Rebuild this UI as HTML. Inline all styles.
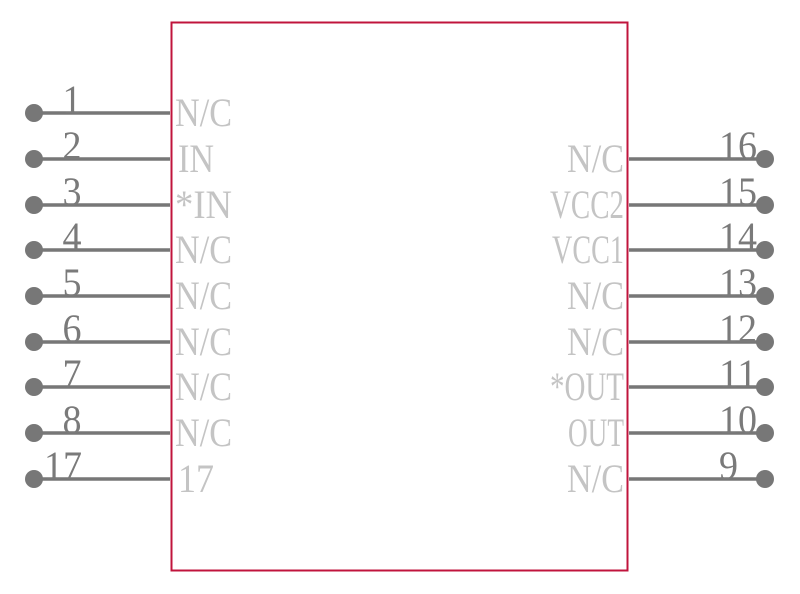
<!DOCTYPE html>
<html><head><meta charset="utf-8"><style>html,body{margin:0;padding:0;background:#fff}svg{display:block}</style></head><body>
<svg width="800" height="594" xmlns="http://www.w3.org/2000/svg" font-family="'Liberation Serif', serif" font-size="40">
<rect x="171.5" y="22.5" width="456" height="548" fill="none" stroke="#c0143c" stroke-width="2"/>
<g stroke="#777" stroke-width="3.5">
<line x1="34" y1="113" x2="170" y2="113"/><line x1="34" y1="159" x2="170" y2="159"/><line x1="34" y1="205" x2="170" y2="205"/><line x1="34" y1="250" x2="170" y2="250"/><line x1="34" y1="296" x2="170" y2="296"/><line x1="34" y1="342" x2="170" y2="342"/><line x1="34" y1="387" x2="170" y2="387"/><line x1="34" y1="433" x2="170" y2="433"/><line x1="34" y1="479" x2="170" y2="479"/>
<line x1="629" y1="159" x2="765" y2="159"/><line x1="629" y1="205" x2="765" y2="205"/><line x1="629" y1="250" x2="765" y2="250"/><line x1="629" y1="296" x2="765" y2="296"/><line x1="629" y1="342" x2="765" y2="342"/><line x1="629" y1="387" x2="765" y2="387"/><line x1="629" y1="433" x2="765" y2="433"/><line x1="629" y1="479" x2="765" y2="479"/>
</g>
<g fill="#777">
<circle cx="34" cy="113" r="9"/><circle cx="34" cy="159" r="9"/><circle cx="34" cy="205" r="9"/><circle cx="34" cy="250" r="9"/><circle cx="34" cy="296" r="9"/><circle cx="34" cy="342" r="9"/><circle cx="34" cy="387" r="9"/><circle cx="34" cy="433" r="9"/><circle cx="34" cy="479" r="9"/>
<circle cx="765" cy="159" r="9"/><circle cx="765" cy="205" r="9"/><circle cx="765" cy="250" r="9"/><circle cx="765" cy="296" r="9"/><circle cx="765" cy="342" r="9"/><circle cx="765" cy="387" r="9"/><circle cx="765" cy="433" r="9"/><circle cx="765" cy="479" r="9"/>
</g>
<g fill="#7a7a7a" text-anchor="middle">
<text x="72" y="113" textLength="19" lengthAdjust="spacingAndGlyphs">1</text>
<text x="72" y="159" textLength="19" lengthAdjust="spacingAndGlyphs">2</text>
<text x="72" y="205" textLength="19" lengthAdjust="spacingAndGlyphs">3</text>
<text x="72" y="250" textLength="19" lengthAdjust="spacingAndGlyphs">4</text>
<text x="72" y="296" textLength="19" lengthAdjust="spacingAndGlyphs">5</text>
<text x="72" y="342" textLength="19" lengthAdjust="spacingAndGlyphs">6</text>
<text x="72" y="387" textLength="19" lengthAdjust="spacingAndGlyphs">7</text>
<text x="72" y="433" textLength="19" lengthAdjust="spacingAndGlyphs">8</text>
<text x="63" y="479" textLength="38" lengthAdjust="spacingAndGlyphs">17</text>
</g>
<g fill="#7a7a7a" text-anchor="end">
<text x="757" y="159" textLength="38" lengthAdjust="spacingAndGlyphs">16</text>
<text x="757" y="205" textLength="38" lengthAdjust="spacingAndGlyphs">15</text>
<text x="757" y="250" textLength="38" lengthAdjust="spacingAndGlyphs">14</text>
<text x="757" y="296" textLength="38" lengthAdjust="spacingAndGlyphs">13</text>
<text x="757" y="342" textLength="38" lengthAdjust="spacingAndGlyphs">12</text>
<text x="757" y="387" textLength="38" lengthAdjust="spacingAndGlyphs">11</text>
<text x="757" y="433" textLength="38" lengthAdjust="spacingAndGlyphs">10</text>
<text x="738" y="479" textLength="19" lengthAdjust="spacingAndGlyphs">9</text>
</g>
<g fill="#c4c4c4">
<text x="175" y="126" textLength="57" lengthAdjust="spacingAndGlyphs">N/C</text>
<text x="178" y="172" textLength="36" lengthAdjust="spacingAndGlyphs">IN</text>
<text x="175" y="218" textLength="57" lengthAdjust="spacingAndGlyphs">*IN</text>
<text x="175" y="263" textLength="57" lengthAdjust="spacingAndGlyphs">N/C</text>
<text x="175" y="309" textLength="57" lengthAdjust="spacingAndGlyphs">N/C</text>
<text x="175" y="355" textLength="57" lengthAdjust="spacingAndGlyphs">N/C</text>
<text x="175" y="400" textLength="57" lengthAdjust="spacingAndGlyphs">N/C</text>
<text x="175" y="446" textLength="57" lengthAdjust="spacingAndGlyphs">N/C</text>
<text x="178" y="492" textLength="36" lengthAdjust="spacingAndGlyphs">17</text>
</g>
<g fill="#c4c4c4" text-anchor="end">
<text x="624" y="172" textLength="57" lengthAdjust="spacingAndGlyphs">N/C</text>
<text x="624" y="218" textLength="74" lengthAdjust="spacingAndGlyphs">VCC2</text>
<text x="624" y="263" textLength="72" lengthAdjust="spacingAndGlyphs">VCC1</text>
<text x="624" y="309" textLength="57" lengthAdjust="spacingAndGlyphs">N/C</text>
<text x="624" y="355" textLength="57" lengthAdjust="spacingAndGlyphs">N/C</text>
<text x="624" y="400" textLength="74" lengthAdjust="spacingAndGlyphs">*OUT</text>
<text x="624" y="446" textLength="56" lengthAdjust="spacingAndGlyphs">OUT</text>
<text x="624" y="492" textLength="57" lengthAdjust="spacingAndGlyphs">N/C</text>
</g>
</svg>
</body></html>
